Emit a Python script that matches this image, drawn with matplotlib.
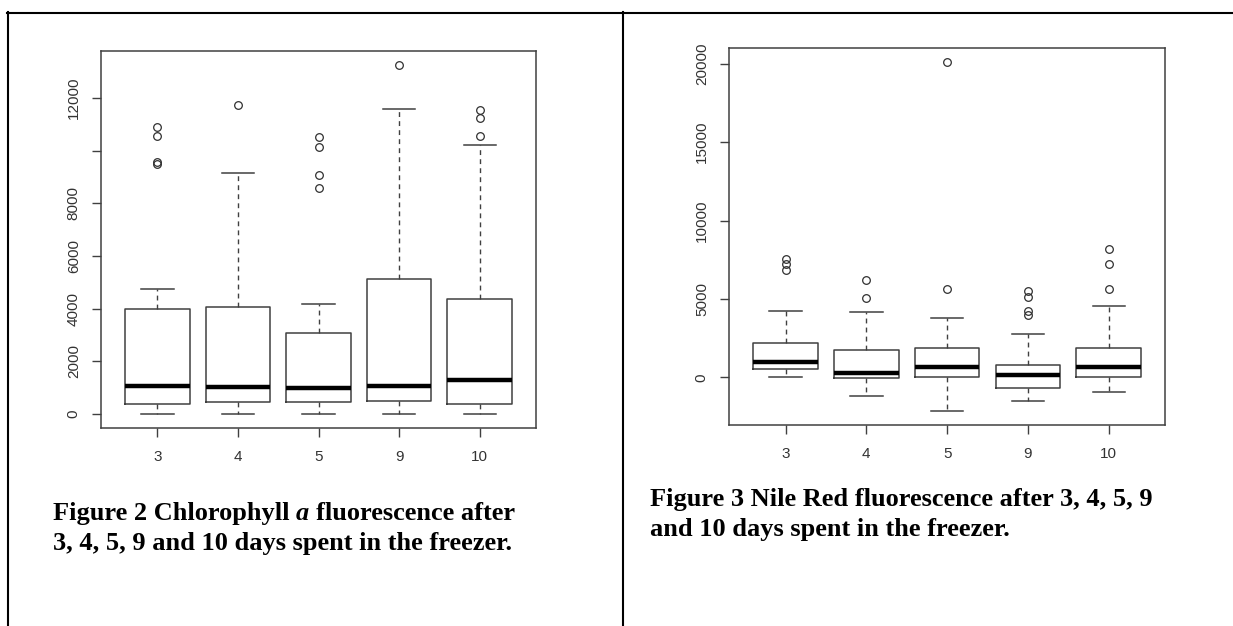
import numpy as np
import matplotlib.pyplot as plt
from matplotlib.lines import Line2D
from matplotlib.transforms import Affine2D

plt.rcParams['font.family'] = ['Liberation Sans', 'DejaVu Sans']

W, H = 1233, 626

days = ['3', '4', '5', '9', '10']

# Chlorophyll a fluorescence (box summary per storage day)
chl_low = [0, 0, 0, 0, 0]
chl_q1 = [370, 445, 445, 495, 370]
chl_med = [1065, 1025, 990, 1065, 1305]
chl_q3 = [3990, 4080, 3080, 5145, 4370]
chl_high = [4730, 9150, 4195, 11580, 10215]
chl_out = [[10900, 10555, 9555, 9480], [11735], [10515, 10135, 9060, 8565],
           [13255], [11545, 11240, 10545]]
chl_ticks = [0, 2000, 4000, 6000, 8000, 10000, 12000]
chl_labels = ['0', '2000', '4000', '6000', '8000', '', '12000']

# Nile Red fluorescence
nr_low = [0, -1210, -2170, -1530, -955]
nr_q1 = [510, -65, 0, -700, 0]
nr_med = [980, 255, 660, 150, 660]
nr_q3 = [2190, 1745, 1870, 785, 1870]
nr_high = [4230, 4165, 3785, 2785, 4570]
nr_out = [[7545, 7225, 6865], [6230, 5060], [20130, 5655],
          [5525, 5125, 4210, 3955], [8205, 7245, 5655]]
nr_ticks = [0, 5000, 10000, 15000, 20000]
nr_labels = ['0', '5000', '10000', '15000', '20000']

cap_left = [("Figure 2 Chlorophyll", 'normal'), ("a", 'italic'), ("fluorescence after", 'normal')]
cap_left2 = "3, 4, 5, 9 and 10 days spent in the freezer."
cap_right = "Figure 3 Nile Red fluorescence after 3, 4, 5, 9"
cap_right2 = "and 10 days spent in the freezer."

fig = plt.figure(figsize=(W / 100, H / 100), dpi=100)
px = Affine2D().scale(1 / W, -1 / H).translate(0, 1) + fig.transFigure

LINE = '#404040'


def boxpanel(rect, low, q1, med, q3, high, out, ticks, labels):
    ax = fig.add_axes(rect)
    stats = []
    for i in range(len(days)):
        stats.append(dict(whislo=low[i], q1=q1[i], med=med[i], q3=q3[i],
                          whishi=high[i], fliers=out[i]))
    ax.bxp(stats, positions=range(1, len(days) + 1), widths=0.8, capwidths=0.4,
           manage_ticks=False,
           boxprops=dict(color=LINE, linewidth=1.1),
           whiskerprops=dict(color=LINE, linewidth=1.0, dashes=(3.5, 3)),
           capprops=dict(color=LINE, linewidth=1.1),
           medianprops=dict(color='black', linewidth=3.2, solid_capstyle='butt'),
           flierprops=dict(marker='o', markersize=5.5, markerfacecolor='none',
                           markeredgecolor='#303030', markeredgewidth=0.9))
    # R-style 4% padding around the data range
    allv = low + high + [v for o in out for v in o]
    lo, hi = min(allv), max(allv)
    pad = 0.04 * (hi - lo)
    ax.set_ylim(lo - pad, hi + pad)
    ax.set_xlim(0.3, len(days) + 0.7)
    ax.set_xticks(range(1, len(days) + 1), days)
    ax.set_yticks(ticks, labels, rotation=90, va='center')
    ax.tick_params(direction='out', length=6.5, width=1, color=LINE,
                   labelcolor='#333333', labelsize=11)
    ax.tick_params(axis='x', pad=9)
    ax.tick_params(axis='y', pad=8)
    for s in ax.spines.values():
        s.set_color(LINE)
        s.set_linewidth(1.1)
    return ax


boxpanel([101 / W, 1 - 428 / H, 435 / W, 377 / H],
         chl_low, chl_q1, chl_med, chl_q3, chl_high, chl_out, chl_ticks, chl_labels)
boxpanel([729 / W, 1 - 425.3 / H, 436.3 / W, 377.6 / H],
         nr_low, nr_q1, nr_med, nr_q3, nr_high, nr_out, nr_ticks, nr_labels)

# table cell borders
for xs, ys in [([7, W], [12.5, 12.5]), ([8, 8], [12, H]), ([622.5, 622.5], [12, H])]:
    fig.add_artist(Line2D(xs, ys, transform=px, color='black', linewidth=1.5))

FS = 19
font = dict(family='Liberation Serif', fontweight='bold', fontsize=FS, va='baseline',
            ha='left', color='black', transform=px)
renderer = fig.canvas.get_renderer()
space = 0.25 * FS * fig.dpi / 72

x = 53
for s, style in cap_left:
    t = fig.text(x, 520, s, fontstyle=style, **font)
    x += t.get_window_extent(renderer=renderer).width + space
fig.text(53, 550, cap_left2, **font)

fig.text(650, 506, cap_right, **font)
fig.text(650, 536, cap_right2, **font)

fig.savefig('out.png', dpi=100)
